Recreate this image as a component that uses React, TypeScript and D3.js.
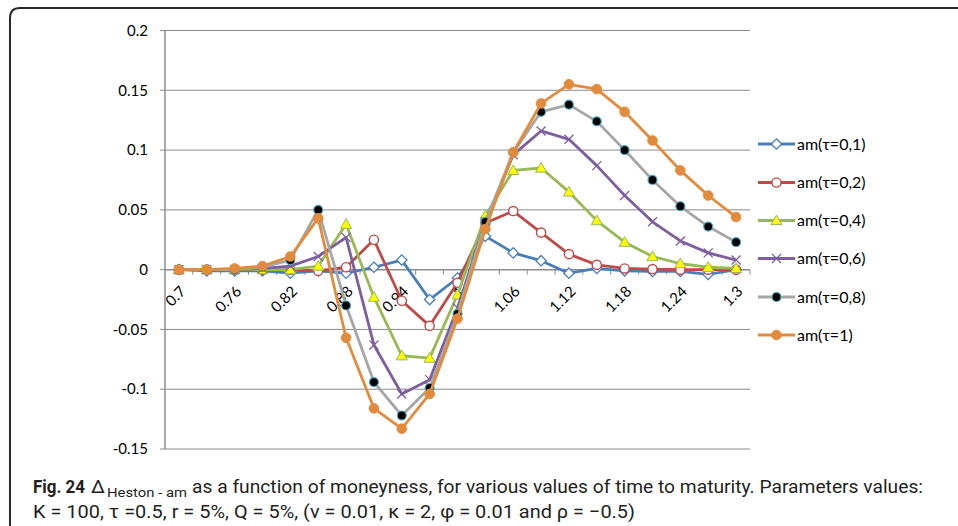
import React from "react";
import * as d3 from "d3";

const categories = ["0.7","0.73","0.76","0.79","0.82","0.85","0.88","0.91","0.94","0.97","1","1.03","1.06","1.09","1.12","1.15","1.18","1.21","1.24","1.27","1.3"];
const tickLabels = ["0.7","0.76","0.82","0.88","0.94","1","1.06","1.12","1.18","1.24","1.3"];
const yTicks = [-0.15, -0.1, -0.05, 0, 0.05, 0.1, 0.15, 0.2];
const yTickLabels = ["-0.15", "-0.1", "-0.05", "0", "0.05", "0.1", "0.15", "0.2"];

const seriesNames = ["am(τ=0,1)", "am(τ=0,2)", "am(τ=0,4)", "am(τ=0,6)", "am(τ=0,8)", "am(τ=1)"];
const tau01 = [0, -0.001, -0.001, -0.001, -0.003, -0.001, -0.003, 0.002, 0.008, -0.025, -0.007, 0.028, 0.014, 0.0075, -0.003, 0.001, -0.001, -0.0015, -0.0015, -0.004, 0];
const tau02 = [0, 0, 0, 0, 0, -0.001, 0.002, 0.025, -0.026, -0.047, -0.011, 0.039, 0.049, 0.031, 0.013, 0.004, 0.001, 0.0005, 0, 0, 0];
const tau04 = [0, 0, 0, 0, 0, 0.003, 0.038, -0.023, -0.072, -0.074, -0.021, 0.045, 0.083, 0.085, 0.065, 0.041, 0.023, 0.011, 0.005, 0.002, 0.001];
const tau06 = [0, 0, 0, 0.001, 0.003, 0.011, 0.027, -0.063, -0.104, -0.092, -0.032, 0.04, 0.096, 0.116, 0.109, 0.087, 0.062, 0.04, 0.024, 0.014, 0.008];
const tau08 = [0, 0, 0, 0.002, 0.008, 0.05, -0.03, -0.094, -0.122, -0.099, -0.037, 0.04, 0.098, 0.132, 0.138, 0.124, 0.1, 0.075, 0.053, 0.036, 0.023];
const tau10 = [0, 0, 0.001, 0.003, 0.011, 0.043, -0.057, -0.116, -0.133, -0.104, -0.041, 0.034, 0.098, 0.139, 0.155, 0.151, 0.132, 0.108, 0.083, 0.062, 0.044];

const seriesValues = [tau01, tau02, tau04, tau06, tau08, tau10];
const lineColors = ["#4A7EBB", "#BE4B48", "#98B954", "#7D5FA0", "#A6A6A6", "#E38B3D"];
const markerTypes = ["diamond", "circleOpen", "triangle", "cross", "circleBlack", "circleFill"];

const W = 958, H = 526;
const plotLeft = 165, plotRight = 750, plotTop = 30.5, plotBottom = 449;
const FONT = "Lato, 'Open Sans', sans-serif";
const CAPFONT = "Roboto, 'Open Sans', sans-serif";

function Marker({ type, x, y, color }: { type: string; x: number; y: number; color: string }) {
  if (type === "diamond") {
    const r = 5.2;
    return <path d={`M${x},${y - r}L${x + r},${y}L${x},${y + r}L${x - r},${y}Z`} fill="#fff" stroke={color} strokeWidth={1.3} />;
  }
  if (type === "circleOpen") {
    return <circle cx={x} cy={y} r={4.6} fill="#fff" stroke={color} strokeWidth={1.4} />;
  }
  if (type === "triangle") {
    const r = 5.5;
    return <path d={`M${x},${y - r}L${x + r},${y + r * 0.75}L${x - r},${y + r * 0.75}Z`} fill="#FFFF00" stroke={color} strokeWidth={1} />;
  }
  if (type === "cross") {
    const r = 4.5;
    return <path d={`M${x - r},${y - r}L${x + r},${y + r}M${x - r},${y + r}L${x + r},${y - r}`} stroke={color} strokeWidth={1.3} fill="none" />;
  }
  if (type === "circleBlack") {
    return <circle cx={x} cy={y} r={4.5} fill="#000" stroke="#4BACC6" strokeWidth={1.2} />;
  }
  return <circle cx={x} cy={y} r={4.8} fill={color} stroke={color} strokeWidth={1} />;
}

export default function App() {
  const x = d3.scaleBand<string>().domain(categories).range([plotLeft, plotRight]).paddingInner(0).paddingOuter(0);
  const bw = x.bandwidth();
  const px = (c: string) => (x(c) as number) + bw / 2;
  const y = d3.scaleLinear().domain([-0.15, 0.2]).range([plotBottom, plotTop]);
  const line = d3.line<number>().x((_, i) => px(categories[i])).y((d) => y(d));

  const legendX0 = 758, legendX1 = 795;
  const legendY = [144, 182.5, 220.5, 258.5, 297, 335];

  return (
    <svg width={W} height={H} style={{ position: "absolute", left: 0, top: 0, background: "#fff" }}>
      <rect x={0} y={0} width={W} height={H} fill="#fff" />
      <path d={`M10,${H + 2}L10,18Q10,8 20,8L${W + 2},8`} fill="none" stroke="#2a2a2a" strokeWidth={2} />

      {yTicks.map((t, i) => (
        <g key={"g" + i}>
          {t !== 0 && <line x1={plotLeft} x2={plotRight} y1={y(t)} y2={y(t)} stroke="#8C8C8C" strokeWidth={1} />}
          <line x1={plotLeft - 5} x2={plotLeft} y1={y(t)} y2={y(t)} stroke="#8C8C8C" strokeWidth={1} />
          <text x={148} y={y(t)} dy="0.35em" textAnchor="end" fontFamily={FONT} fontSize={15} fill="#000">{yTickLabels[i]}</text>
        </g>
      ))}
      <line x1={plotLeft} x2={plotLeft} y1={plotTop} y2={plotBottom} stroke="#8C8C8C" strokeWidth={1.5} />
      <line x1={plotLeft} x2={plotRight} y1={y(0)} y2={y(0)} stroke="#8C8C8C" strokeWidth={1.5} />
      {categories.map((c, i) => (
        <line key={"xt" + i} x1={(x(c) as number) + bw} x2={(x(c) as number) + bw} y1={y(0)} y2={y(0) + 5} stroke="#8C8C8C" strokeWidth={1} />
      ))}
      {tickLabels.map((l, i) => (
        <text key={"xl" + i} transform={`translate(${px(l) + 4},${y(0) + 19}) rotate(-45)`} textAnchor="end" dy="0.35em" fontFamily={FONT} fontSize={15} fill="#000">{l}</text>
      ))}

      {seriesValues.map((vals, s) => (
        <g key={"s" + s}>
          <path d={line(vals) || ""} fill="none" stroke={lineColors[s]} strokeWidth={2.8} strokeLinejoin="round" />
          {vals.map((v, i) => (
            <Marker key={i} type={markerTypes[s]} x={px(categories[i])} y={y(v)} color={lineColors[s]} />
          ))}
        </g>
      ))}

      {seriesNames.map((n, s) => (
        <g key={"lg" + s}>
          <line x1={legendX0} x2={legendX1} y1={legendY[s]} y2={legendY[s]} stroke={lineColors[s]} strokeWidth={2.8} />
          <Marker type={markerTypes[s]} x={(legendX0 + legendX1) / 2} y={legendY[s]} color={lineColors[s]} />
          <text x={797} y={legendY[s]} dy="0.35em" fontFamily={FONT} fontSize={16} fill="#000">{n}</text>
        </g>
      ))}

      <g fontFamily={CAPFONT} fill="#231F20">
        <text x={33} y={493} fontSize={19} fontWeight={700} textLength={52} lengthAdjust="spacingAndGlyphs">Fig. 24</text>
        <text x={91} y={493} fontSize={19} textLength={14} lengthAdjust="spacingAndGlyphs">Δ</text>
        <text x={107} y={497} fontSize={13} textLength={80} lengthAdjust="spacingAndGlyphs">Heston - am</text>
        <text x={192} y={493} fontSize={19} textLength={731} lengthAdjust="spacingAndGlyphs">as a function of moneyness, for various values of time to maturity. Parameters values:</text>
        <text x={33} y={518} fontSize={19} textLength={602} lengthAdjust="spacingAndGlyphs">K = 100, τ =0.5, r = 5%, Q = 5%, (v = 0.01, κ = 2, φ = 0.01 and ρ = −0.5)</text>
      </g>
    </svg>
  );
}
